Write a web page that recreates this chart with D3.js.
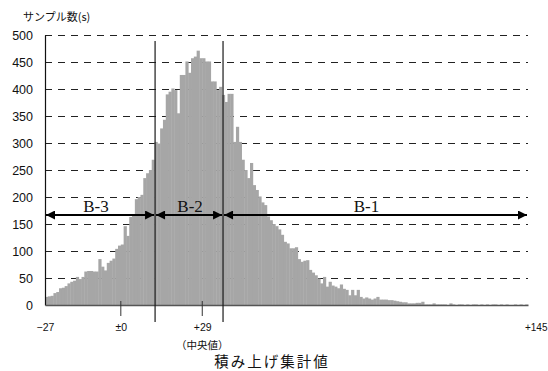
<!DOCTYPE html>
<html><head><meta charset="utf-8">
<script src="https://cdn.jsdelivr.net/npm/d3@7"></script>
<style>
body{margin:0;background:#fff;}
svg{display:block;}
</style></head>
<body><svg id="c" width="548" height="371"></svg>
<script>
// ---- data ----
const binStart = -27;          // first bin left edge
const binEnd = 145;            // last bin right edge
const counts = [
 15,16,17,22,24,31,32,35,40,43,45,52,48,52,62,63,63,62,62,85,71,64,78,82,86,104,110,112,146,128,163,167,196,200,204,235,244,250,
 269,302,299,327,343,390,395,401,398,355,426,426,451,430,457,460,471,457,457,451,451,414,414,398,404,389,376,391,391,302,330,302,269,250,235,263,
 222,213,201,190,185,164,157,150,146,140,130,117,114,105,105,107,85,80,82,83,65,60,55,49,40,52,34,43,36,34,31,38,30,28,18,28,18,28,15,12,14,12,
 10,12,15,10,10,10,9,9,8,7,6,5,5,3,3,3,4,4,6,1,1,1,3,1,1,1,1,0,3,1,0,1,1,0,1,0,1,1,0,1,0,1,0,1,1,0,1,0,1,0,0,1,0,1,0,1
];
const yTicks = [0,50,100,150,200,250,300,350,400,450,500];
const xTickValues = [-27, 0, 29, 145];
const xTickLabels = ["−27", "±0", "+29", "+145"];
const xTickMarks = [0, 29];
const regionBounds = [12.2, 36.4];
const regionLabels = ["B-3", "B-2", "B-1"];
const yTitle = "サンプル数(s)";
const xTitle = "積み上げ集計値";
const medianNote = "（中央値）";

// ---- layout ----
const svg = d3.select("#c");
const x = d3.scaleLinear().domain([binStart, binEnd]).range([45, 528]);
const y = d3.scaleLinear().domain([0, 500]).range([305, 35]);
const jp = "'Noto Sans CJK JP', sans-serif";
const num = "'Liberation Sans', Arial, sans-serif";

// gridlines
svg.append("g").selectAll("line").data(yTicks.filter(d => d > 0)).join("line")
  .attr("x1", x(binStart)).attr("x2", x(binEnd))
  .attr("y1", d => Math.round(y(d)) + 0.5).attr("y2", d => Math.round(y(d)) + 0.5)
  .attr("stroke", "#222").attr("stroke-width", 1).attr("stroke-dasharray", "7,6");

// bars
svg.append("g").selectAll("rect").data(counts).join("rect")
  .attr("x", (d, i) => x(binStart + i))
  .attr("width", (d, i) => x(binStart + i + 1) - x(binStart + i) + 0.4)
  .attr("y", d => y(d))
  .attr("height", d => y(0) - y(d))
  .attr("fill", "#a6a6a6");

// y axis
const yAxis = svg.append("g").attr("transform", "translate(45,0)")
  .call(d3.axisLeft(y).tickValues(yTicks).tickSize(0).tickPadding(12));
yAxis.select(".domain").attr("stroke", "#111").attr("stroke-width", 1.2);
yAxis.selectAll("text").attr("font-family", num).attr("font-size", 12.5).attr("fill", "#111");

// x axis
const xAxis = svg.append("g").attr("transform", "translate(0,305)")
  .call(d3.axisBottom(x).tickValues(xTickValues).tickSize(0).tickPadding(19)
    .tickFormat((d, i) => xTickLabels[i]));
xAxis.select(".domain").attr("stroke", "#555").attr("stroke-width", 1.5);
xAxis.selectAll("text").attr("font-family", num).attr("font-size", 10.5).attr("fill", "#111");
xAxis.selectAll(".tick").filter(d => d === binEnd).select("text")
  .attr("text-anchor", "end").attr("x", 547 - x(binEnd)).attr("font-size", 10);

// tick marks for 0 and 29
svg.append("g").selectAll("line").data(xTickMarks).join("line")
  .attr("x1", d => x(d)).attr("x2", d => x(d))
  .attr("y1", 301).attr("y2", 316)
  .attr("stroke", "#333").attr("stroke-width", 1);

// region boundary lines
svg.append("g").selectAll("line").data(regionBounds).join("line")
  .attr("x1", d => x(d)).attr("x2", d => x(d))
  .attr("y1", 41).attr("y2", 322)
  .attr("stroke", "#1a1a1a").attr("stroke-width", 1.2);

// arrows
const defs = svg.append("defs");
defs.append("marker").attr("id", "ah").attr("viewBox", "0 0 10 10")
  .attr("refX", 10).attr("refY", 5).attr("markerWidth", 10).attr("markerHeight", 9)
  .attr("markerUnits", "userSpaceOnUse").attr("orient", "auto-start-reverse")
  .append("path").attr("d", "M0,0L10,5L0,10Z").attr("fill", "#000");

const edges = [binStart, ...regionBounds, binEnd];
const regions = regionLabels.map((l, i) => ({label: l, a: edges[i], b: edges[i + 1]}));
const ay = 215;
svg.append("g").selectAll("line").data(regions).join("line")
  .attr("x1", d => x(d.a) + 1).attr("x2", d => x(d.b) - 1)
  .attr("y1", ay).attr("y2", ay)
  .attr("stroke", "#000").attr("stroke-width", 2.2)
  .attr("marker-start", "url(#ah)").attr("marker-end", "url(#ah)");
svg.append("g").selectAll("text").data(regions).join("text")
  .attr("x", (d, i) => (x(d.a) + x(d.b)) / 2 + [-4, 1, -9][i])
  .attr("y", ay - 3)
  .attr("text-anchor", "middle")
  .attr("font-family", "'Liberation Serif', 'DejaVu Serif', serif")
  .attr("font-size", 17).attr("fill", "#111")
  .text(d => d.label);

// titles
svg.append("text").attr("x", 23).attr("y", 21)
  .attr("font-family", jp).attr("font-size", 11).attr("fill", "#111").text(yTitle);
svg.append("text").attr("x", x(29)).attr("y", 349).attr("text-anchor", "middle")
  .attr("font-family", jp).attr("font-size", 10.5).attr("fill", "#111").text(medianNote);
svg.append("text").attr("x", 272).attr("y", 367).attr("text-anchor", "middle")
  .attr("font-family", jp).attr("font-size", 14.5).attr("letter-spacing", 2).attr("fill", "#111").text(xTitle);
</script></body></html>
